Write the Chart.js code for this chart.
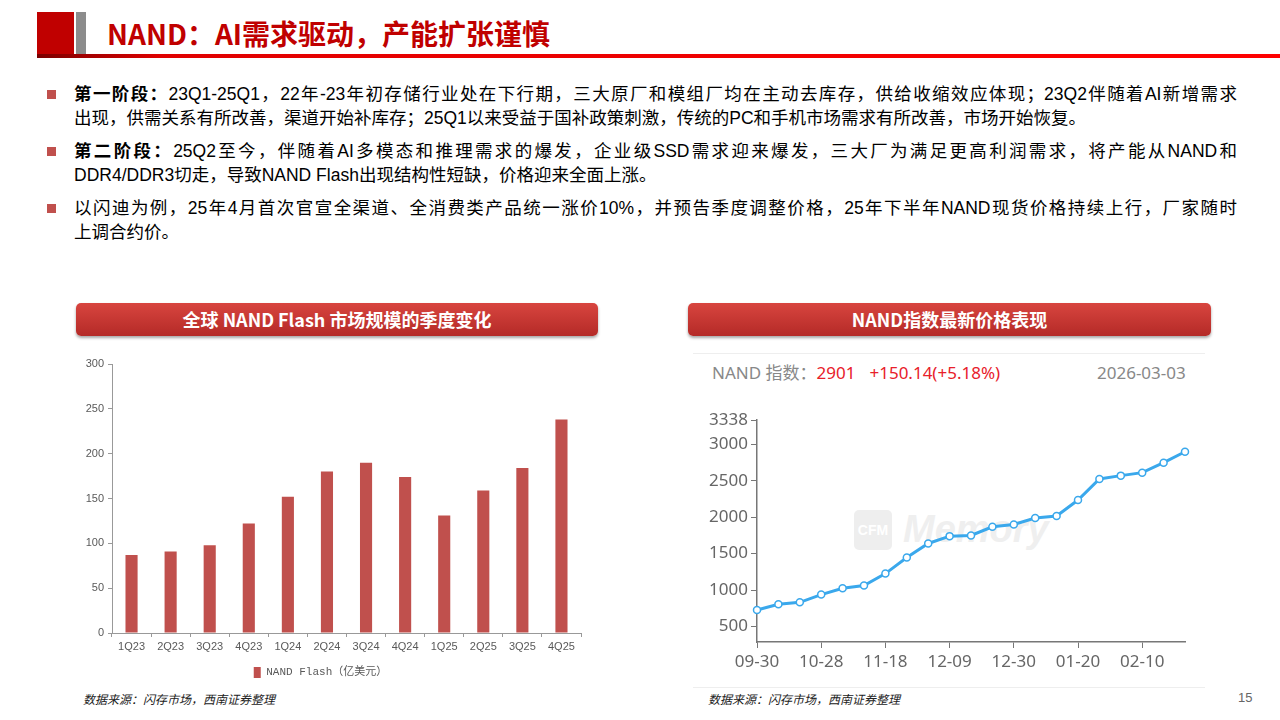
<!DOCTYPE html>
<html>
<head>
<meta charset="utf-8">
<script src="https://cdn.jsdelivr.net/npm/chart.js@4.4.1/dist/chart.umd.min.js"></script>
<style>
  body { margin: 0; width: 1280px; height: 720px; position: relative; background: #fff; overflow: hidden;
         font-family: "Liberation Sans", "Noto Sans CJK SC", sans-serif; }
  .abs { position: absolute; }
  .hdr-red { left: 37px; top: 12px; width: 37px; height: 42px; background: #C00000; }
  .hdr-gray { left: 76px; top: 12px; width: 10px; height: 42px; background: #8C8C8C; }
  .hdr-line { left: 37px; top: 54px; width: 1243px; height: 4px; background: linear-gradient(to right, #7a0000, #e00000 10%, #ff0000); }
  .title { left: 107px; top: 13px; font-size: 28px; font-weight: bold; color: #C00000;
           font-family: "Noto Sans CJK SC", sans-serif; line-height: 40px; }
  .bullets { left: 74px; top: 82px; width: 1163px; font-size: 17.5px; color: #000; }
  .para { position: relative; margin-bottom: 9px; }
  .para .ln { line-height: 24px; height: 24px; white-space: nowrap; text-align: justify; text-align-last: justify; }
  .para .ln.last { text-align-last: left; }
  .para::before { content: ""; position: absolute; left: -27px; top: 8px; width: 9px; height: 9px; background: #C0504D; }
  .bar-title { height: 33px; top: 303px; border-radius: 5px; color: #fff; font-weight: bold; font-size: 18px;
               background: linear-gradient(#D8453F, #B42A27); box-shadow: 0 2px 3px rgba(0,0,0,0.35);
               text-align: center; line-height: 33px; font-family: "Noto Sans CJK SC", sans-serif; }
  .src { top: 690px; font-size: 12px; font-style: italic; color: #222; font-family: "Noto Sans CJK SC", sans-serif; }
  .faint { height: 1px; background: #eee; }
  .idx { top: 361px; font-size: 17px; line-height: 24px; font-family: "Noto Sans", "Noto Sans CJK SC", sans-serif; }
  .wm-box { left: 854px; top: 510px; width: 38px; height: 40px; border-radius: 5px; background: #eeeeee;
            color: #fff; font-size: 14px; font-weight: bold; text-align: center; line-height: 40px; font-family: "Liberation Sans"; }
  .wm-txt { left: 903px; top: 508px; font-size: 38px; font-style: italic; font-weight: bold; color: #efefef; font-family: "Liberation Sans"; }
</style>
</head>
<body>
<div class="abs hdr-red"></div>
<div class="abs hdr-gray"></div>
<div class="abs hdr-line"></div>
<div class="abs title">NAND：AI需求驱动，产能扩张谨慎</div>

<div class="abs bullets">
  <div class="para">
    <div class="ln"><b>第一阶段：</b>23Q1-25Q1，22年-23年初存储行业处在下行期，三大原厂和模组厂均在主动去库存，供给收缩效应体现；23Q2伴随着AI新增需求</div>
    <div class="ln last">出现，供需关系有所改善，渠道开始补库存；25Q1以来受益于国补政策刺激，传统的PC和手机市场需求有所改善，市场开始恢复。</div>
  </div>
  <div class="para">
    <div class="ln"><b>第二阶段：</b>25Q2至今，伴随着AI多模态和推理需求的爆发，企业级SSD需求迎来爆发，三大厂为满足更高利润需求，将产能从NAND和</div>
    <div class="ln last">DDR4/DDR3切走，导致NAND Flash出现结构性短缺，价格迎来全面上涨。</div>
  </div>
  <div class="para">
    <div class="ln">以闪迪为例，25年4月首次官宣全渠道、全消费类产品统一涨价10%，并预告季度调整价格，25年下半年NAND现货价格持续上行，厂家随时</div>
    <div class="ln last">上调合约价。</div>
  </div>
</div>

<div class="abs bar-title" style="left:76px; width:522px;">全球 NAND Flash 市场规模的季度变化</div>
<div class="abs bar-title" style="left:688px; width:523px;">NAND指数最新价格表现</div>

<div class="abs faint" style="left:693px; top:353px; width:512px;"></div>
<div class="abs idx" style="left:712px; color:#888;">NAND 指数：<span style="color:#E8202A;">2901</span><span style="color:#E8202A; margin-left:14px;">+150.14(+5.18%)</span></div>
<div class="abs idx" style="left:1097px; color:#888;">2026-03-03</div>

<div class="abs wm-box">CFM</div>
<div class="abs wm-txt">Memory</div>

<div class="abs" style="left:60px; top:350px; width:540px; height:340px;"><canvas id="barChart"></canvas></div>
<div class="abs" style="left:690px; top:405px; width:515px; height:282px;"><canvas id="lineChart"></canvas></div>

<div class="abs faint" style="left:693px; top:687px; width:512px;"></div>
<div class="abs src" style="left:83px;">数据来源：闪存市场，西南证券整理</div>
<div class="abs src" style="left:708px;">数据来源：闪存市场，西南证券整理</div>
<div class="abs" style="left:1238px; top:690px; font-size:13px; color:#666;">15</div>

<script>
// 左图：全球 NAND Flash 市场规模（亿美元）
const quarters = ['1Q23', '2Q23', '3Q23', '4Q23', '1Q24', '2Q24', '3Q24', '4Q24', '1Q25', '2Q25', '3Q25', '4Q25'];
const nandRevenue = [87, 91, 98, 122, 152, 180, 190, 174, 131, 159, 184, 238];
const barTicks = [0, 50, 100, 150, 200, 250, 300];

// 右图：NAND 指数
const indexDates = ['09-30', '10-14', '10-21', '10-28', '11-04', '11-11', '11-18', '11-25', '12-02', '12-09', '12-16',
    '12-23', '12-30', '01-06', '01-13', '01-20', '01-27', '02-03', '02-10', '02-24', '03-03'];
const indexValues = [725, 803, 831, 937, 1024, 1061, 1226, 1447, 1640, 1741, 1750, 1870, 1902, 1989, 2017, 2237,
    2527, 2573, 2614, 2751, 2901];
const lineTicks = [500, 1000, 1500, 2000, 2500, 3000, 3338];

Chart.defaults.animation = false;
Chart.defaults.responsive = true;
Chart.defaults.maintainAspectRatio = false;

new Chart(document.getElementById('barChart'), {
    type: 'bar',
    data: {
        labels: quarters,
        datasets: [{
            label: 'NAND Flash（亿美元）',
            data: nandRevenue,
            backgroundColor: '#C0504D',
            categoryPercentage: 1,
            barPercentage: 0.31,
        }]
    },
    options: {
        layout: { padding: { top: 14, right: 19, bottom: 2, left: 0 } },
        plugins: {
            tooltip: { enabled: false },
            legend: {
                position: 'bottom',
                labels: {
                    boxWidth: 7, boxHeight: 11, padding: 8, color: '#595959',
                    font: { size: 11, family: '"Liberation Mono", "Noto Sans CJK SC"' }
                }
            }
        },
        scales: {
            x: {
                grid: { drawOnChartArea: false, tickLength: 4, color: '#999', offset: true },
                border: { color: '#999' },
                ticks: { color: '#595959', padding: 3, font: { size: 11, family: 'Liberation Sans' }, maxRotation: 0 },
                afterFit: (scale) => { scale.height = 26; }
            },
            y: {
                min: 0, max: 300,
                afterBuildTicks: (scale) => { scale.ticks = barTicks.map(v => ({ value: v })); },
                grid: { drawOnChartArea: false, tickLength: 4, color: '#999' },
                border: { color: '#999' },
                ticks: { color: '#595959', padding: 4, font: { size: 11, family: 'Liberation Sans' } },
                afterFit: (scale) => { scale.width = 52; }
            }
        }
    }
});

new Chart(document.getElementById('lineChart'), {
    type: 'line',
    data: {
        labels: indexDates,
        datasets: [{
            label: 'NAND指数',
            data: indexValues,
            borderColor: '#3AA8EC',
            borderWidth: 3,
            tension: 0,
            pointRadius: 3.5,
            pointBorderWidth: 1.5,
            pointBackgroundColor: '#fff',
            pointBorderColor: '#3AA8EC',
        }]
    },
    options: {
        layout: { padding: { top: 15, right: 20, bottom: 0, left: 0 } },
        plugins: { legend: { display: false }, tooltip: { enabled: false } },
        scales: {
            x: {
                grid: { drawOnChartArea: false, tickLength: 6, color: '#777' },
                border: { color: '#777', width: 1.5 },
                ticks: {
                    autoSkip: false, maxRotation: 0, color: '#666', padding: 4,
                    font: { size: 17, family: '"Noto Sans"' },
                    callback: function (val, i) { return i % 3 === 0 ? this.getLabelForValue(val) : null; }
                },
                afterFit: (scale) => { scale.height = 45; }
            },
            y: {
                min: 285, max: 3338,
                afterBuildTicks: (scale) => { scale.ticks = lineTicks.map(v => ({ value: v })); },
                grid: { drawOnChartArea: false, tickLength: 6, color: '#777' },
                border: { color: '#777', width: 1.5 },
                ticks: {
                    color: '#666', padding: 3, font: { size: 17, family: '"Noto Sans"' },
                    callback: (v) => String(v)
                },
                afterFit: (scale) => { scale.width = 67; }
            }
        }
    }
});
</script>
</body>
</html>
